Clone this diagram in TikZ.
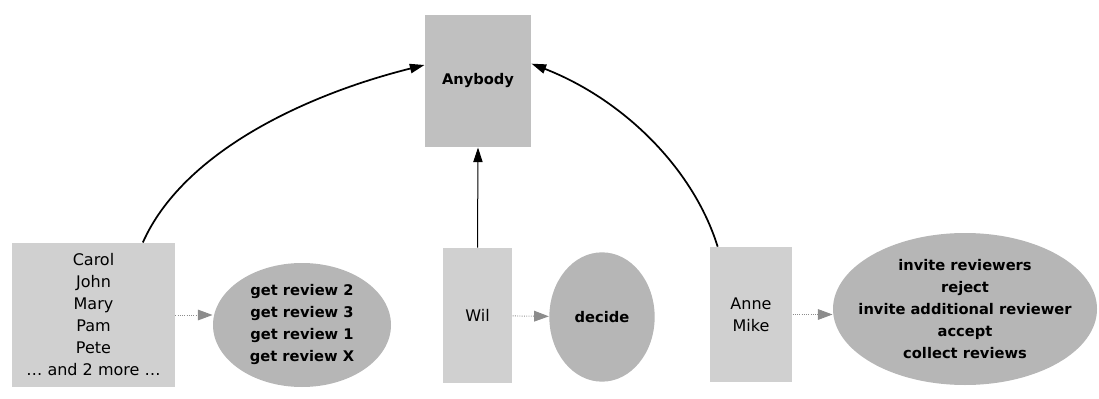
\documentclass[tikz,border=0pt]{standalone}
\usepackage{fontspec}
\setmainfont{DejaVu Sans}
\usetikzlibrary{arrows.meta,shapes.geometric}

\tikzset{every picture/.style={line width=0.75pt}}
\definecolor{rolegray}{RGB}{208,208,208}
\definecolor{topgray}{RGB}{192,192,192}
\definecolor{taskgray}{RGB}{182,182,182}
\definecolor{flowgray}{RGB}{140,140,140}

\tikzset{
  rolebox/.style={rectangle, fill=rolegray, draw=none, inner sep=0pt, align=center, font=\fontsize{12}{16.5}\selectfont},
  taskblob/.style={ellipse, fill=taskgray, draw=none, inner xsep=-12pt, inner ysep=0pt, align=center, font=\fontsize{11}{16.5}\selectfont\bfseries},
  delegate/.style={line width=1.3pt, -{Triangle[length=11pt,width=7pt]}},
  assign/.style={flowgray, densely dotted, line width=0.7pt, -{Triangle[length=11pt,width=8pt,fill=flowgray,sep=0pt]}}
}

\begin{document}
\begin{tikzpicture}[x=0.75pt,y=0.75pt,yscale=-1,xscale=1]
\useasboundingbox (0,0) rectangle (1099,399);

%Role: top
\node [rolebox, fill=topgray, minimum width=79.5pt, minimum height=99pt, font=\fontsize{11}{16.5}\selectfont\bfseries] (anybody) at (478,81) {Anybody};
%Role: reviewers
\node [rolebox, minimum width=122pt, minimum height=108pt] (reviewers) at (93.5,315) {Carol\\John\\Mary\\Pam\\Pete\\\dots{} and 2 more \dots};
%Tasks: reviews
\node [taskblob, minimum width=133.5pt, minimum height=93pt] (reviews) at (302,325) {get review 2\\get review 3\\get review 1\\get review X};
%Role: decider
\node [rolebox, minimum width=52pt, minimum height=101pt] (wil) at (477.5,315.5) {Wil};
%Tasks: decide
\node [taskblob, minimum width=79pt, minimum height=97pt] (decide) at (602,317) {decide};
%Role: editors
\node [rolebox, minimum width=61.5pt, minimum height=101pt] (editors) at (751,314.5) {Anne\\Mike};
%Tasks: editing
\node [taskblob, minimum width=198pt, minimum height=114pt] (editing) at (965,309) {invite reviewers\\reject\\invite additional reviewer\\accept\\collect reviews};

%Delegation arrows
\draw [delegate] ([xshift=37pt]reviewers.north) .. controls +(40,-90) and +(-120,30) .. ([yshift=-12pt]anybody.west);
\draw [delegate] ([xshift=-25pt]editors.north) .. controls +(-25,-80) and +(90,35) .. ([yshift=-13pt]anybody.east);
\draw [delegate, line width=0.75pt] (wil.north) -- (anybody.south);

%Assignment arrows
\draw [assign] (reviewers.east) -- (reviewers.east -| reviews.west);
\draw [assign] (wil) -- (decide);
\draw [assign] (editors.east) -- (editors.east -| editing.west);

\end{tikzpicture}
\end{document}
